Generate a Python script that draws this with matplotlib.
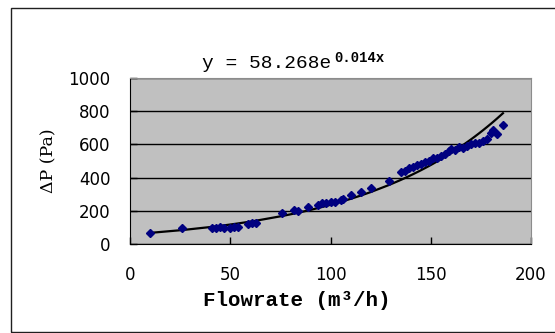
import matplotlib
matplotlib.use("Agg")
import matplotlib.pyplot as plt
import numpy as np
from matplotlib.patches import Rectangle

# measured flowrate (m3/h) and pressure drop (Pa)
flowrate = [10, 26, 41, 43, 45, 47, 50, 52, 54, 59, 61, 63, 76, 82, 84, 89,
            94, 96, 98, 100, 102, 105, 106, 110, 115, 120, 129, 135, 137, 139,
            141, 143, 145, 147, 149, 151, 153, 155, 157, 159, 160, 162, 164,
            166, 168, 170, 172, 174, 176, 178, 180, 181, 183, 186]
dp = [68, 94, 94, 98, 104, 96, 94, 100, 104, 120, 126, 124, 185, 205, 200, 222,
      235, 245, 250, 255, 255, 265, 270, 295, 315, 335, 381, 436, 440, 456,
      462, 476, 480, 496, 500, 516, 520, 530, 540, 560, 570, 566, 586,
      580, 590, 600, 606, 610, 620, 630, 667, 687, 660, 717]

# exponential trendline coefficients (as displayed on the chart)
fit_a = 58.268
fit_b = 0.014

x_ticks = [0, 50, 100, 150, 200]
y_ticks = [0, 200, 400, 600, 800, 1000]

fig = plt.figure(figsize=(5.55, 3.33), dpi=100)
ax = fig.add_axes([130/555, 89/333, 401/555, 166/333])
ax.set_facecolor("#C0C0C0")

xs = np.array(flowrate, dtype=float)
ax.plot(xs, fit_a*np.exp(fit_b*xs), color="black", lw=1.6, zorder=2)
ax.plot(flowrate, dp, "D", color="#000080", ms=4.5, mec="#000080", zorder=3)

ax.set_xlim(0, 200)
ax.set_ylim(0, 1000)
ax.set_xticks(x_ticks)
ax.set_yticks(y_ticks)
ax.yaxis.grid(True, color="black", lw=1.0)
ax.set_axisbelow(True)
ax.tick_params(direction="in", length=5, width=1, labelsize=12, color="black")
ax.tick_params(axis="x", pad=16)
ax.tick_params(axis="y", pad=14)
for lab in ax.get_xticklabels() + ax.get_yticklabels():
    lab.set_family("DejaVu Sans")
for s in ["top", "right"]:
    ax.spines[s].set_color("#8c8c8c")
for s in ["left", "bottom"]:
    ax.spines[s].set_color("black")

ax.set_ylabel("ΔP (Pa)", family="DejaVu Serif", fontsize=12.5, labelpad=8)

fig.text(297/555, 1 - 300/333, "Flowrate (m³/h)", family="Liberation Mono",
         weight="bold", fontsize=15, ha="center", va="center")

# trendline equation
fig.text(202/555, 1 - 68/333, "y = 58.268e", family="Liberation Mono",
         fontsize=14, ha="left", va="baseline")
fig.text(334/555, 1 - 62/333, "0.014x", family="Liberation Mono",
         fontsize=10, weight="bold", ha="left", va="baseline")

# chart frame
fig.patches.append(Rectangle((11/555, 1.5/333), 560/555, 324/333,
                             transform=fig.transFigure, fill=False,
                             edgecolor="#202020", lw=1.0))

fig.savefig("out.png", dpi=100)
